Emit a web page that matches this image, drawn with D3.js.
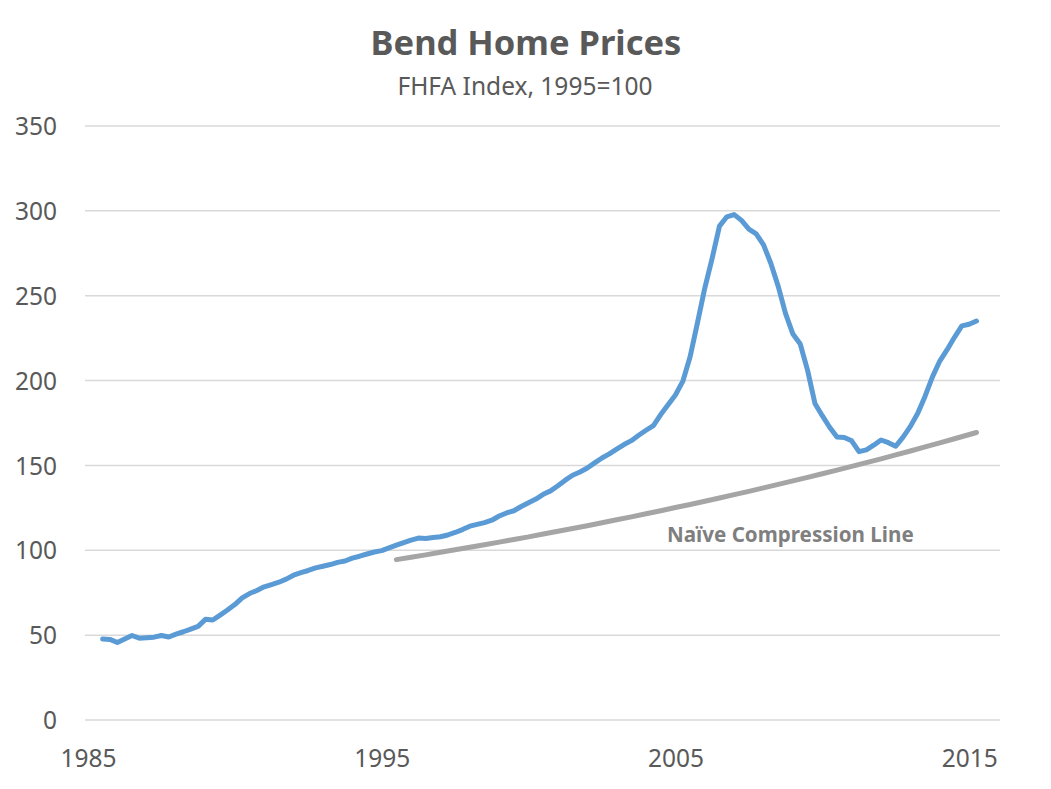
<!DOCTYPE html>
<html>
<head>
<meta charset="utf-8">
<script src="https://cdn.jsdelivr.net/npm/d3@7"></script>
<style>
  body { margin: 0; background: #fff; }
  svg { display: block; font-family: "Noto Sans", sans-serif; }
</style>
</head>
<body>
<svg id="chart" width="1051" height="789"></svg>
<script>
// Índice FHFA de Bend, trimestral desde 1985.5
const homeStart = 1985.5;
const homeIndex = [
  47.7, 47.5, 45.7, 47.8, 49.8, 48.2, 48.5, 48.8, 49.8, 48.9,
  50.6, 52.0, 53.6, 55.2, 59.3, 58.9, 61.8, 64.8, 68.0, 72.0,
  74.5, 76.3, 78.5, 79.8, 81.2, 83.0, 85.3, 86.8, 88.1, 89.6,
  90.6, 91.6, 92.9, 93.7, 95.4, 96.5, 97.8, 99.0, 99.8, 101.4,
  103.0, 104.5, 106.0, 107.2, 106.9, 107.5, 108.0, 109.0, 110.5, 112.2,
  114.2, 115.3, 116.3, 117.7, 120.2, 122.0, 123.3, 125.8, 128.0, 130.2,
  133.0, 135.0, 138.0, 141.3, 144.2, 146.1, 148.5, 151.5, 154.4, 156.8,
  159.6, 162.3, 164.6, 167.8, 170.7, 173.5, 180.0, 185.8, 191.5, 199.5,
  214.0, 234.0, 254.5, 272.0, 291.0, 296.5, 297.8, 294.4, 289.2, 286.5,
  280.0, 269.0, 255.5, 239.5, 227.4, 221.5, 206.0, 186.5, 179.3, 172.5,
  166.7, 166.5, 164.5, 158.1, 159.2, 161.9, 165.0, 163.4, 161.3, 166.7,
  173.0, 180.7, 190.8, 202.2, 211.5, 218.2, 225.5, 232.2, 233.2, 235.1
];

// Línea de "compresión ingenua", semestral desde 1995.5 (último punto 2015.25)
const lineYears = [
  1995.5, 1996, 1996.5, 1997, 1997.5, 1998, 1998.5, 1999, 1999.5, 2000,
  2000.5, 2001, 2001.5, 2002, 2002.5, 2003, 2003.5, 2004, 2004.5, 2005,
  2005.5, 2006, 2006.5, 2007, 2007.5, 2008, 2008.5, 2009, 2009.5, 2010,
  2010.5, 2011, 2011.5, 2012, 2012.5, 2013, 2013.5, 2014, 2014.5, 2015.25
];
const lineIndex = [
  94.5, 95.9, 97.3, 98.8, 100.3, 101.8, 103.3, 104.8, 106.4, 107.9,
  109.6, 111.2, 112.8, 114.5, 116.2, 118.0, 119.7, 121.5, 123.3, 125.2,
  127.0, 128.9, 130.8, 132.8, 134.7, 136.8, 138.8, 140.9, 143.0, 145.1,
  147.2, 149.4, 151.7, 153.9, 156.2, 158.5, 160.9, 163.3, 165.7, 169.4
];

const yTicks = [0, 50, 100, 150, 200, 250, 300, 350];
const xTicks = [1985, 1995, 2005, 2015];

const svg = d3.select("#chart");
const textColor = "#595959";

const x = d3.scaleLinear().domain([1984.9, 2016.05]).range([85, 1000]);
const y = d3.scaleLinear().domain([0, 350]).range([720, 126]);

// Título
svg.append("text")
  .attr("x", 526).attr("y", 55)
  .attr("text-anchor", "middle")
  .attr("font-size", 34.5).attr("font-weight", "bold")
  .attr("fill", textColor)
  .text("Bend Home Prices");
svg.append("text")
  .attr("x", 525).attr("y", 95)
  .attr("text-anchor", "middle")
  .attr("font-size", 24.5)
  .attr("fill", textColor)
  .text("FHFA Index, 1995=100");

// Rejilla
svg.append("g")
  .selectAll("line")
  .data(yTicks)
  .join("line")
    .attr("x1", x.range()[0]).attr("x2", x.range()[1])
    .attr("y1", d => y(d)).attr("y2", d => y(d))
    .attr("stroke", "#d9d9d9")
    .attr("stroke-width", 1.5);

// Ejes
const yAxis = svg.append("g")
  .attr("transform", "translate(57,0)")
  .call(d3.axisLeft(y).tickValues(yTicks).tickSize(0).tickPadding(0));
const xAxis = svg.append("g")
  .attr("transform", "translate(0,720)")
  .call(d3.axisBottom(x).tickValues(xTicks).tickFormat(d3.format("d")).tickSize(0).tickPadding(0));
[yAxis, xAxis].forEach(g => {
  g.select(".domain").remove();
  g.selectAll("text")
    .attr("font-family", "Noto Sans, sans-serif")
    .attr("font-size", 24.5)
    .attr("fill", textColor);
});
xAxis.selectAll("text").attr("dy", null).attr("y", 47);
yAxis.selectAll("text").attr("dy", "0.35em");

// Series
const homeData = homeIndex.map((v, i) => ({ year: homeStart + i / 4, value: v }));
const lineData = lineIndex.map((v, i) => ({ year: lineYears[i], value: v }));

const line = d3.line().x(d => x(d.year)).y(d => y(d.value));

svg.append("path")
  .datum(lineData)
  .attr("d", line)
  .attr("fill", "none")
  .attr("stroke", "#a5a5a5")
  .attr("stroke-width", 5)
  .attr("stroke-linejoin", "round")
  .attr("stroke-linecap", "round");

svg.append("path")
  .datum(homeData)
  .attr("d", line)
  .attr("fill", "none")
  .attr("stroke", "#5b9bd5")
  .attr("stroke-width", 5)
  .attr("stroke-linejoin", "round")
  .attr("stroke-linecap", "round");

// Etiqueta de la línea
svg.append("text")
  .attr("x", 667).attr("y", 542)
  .attr("font-size", 20.6).attr("font-weight", "bold")
  .attr("fill", "#7f7f7f")
  .text("Naïve Compression Line");
</script>
</body>
</html>
